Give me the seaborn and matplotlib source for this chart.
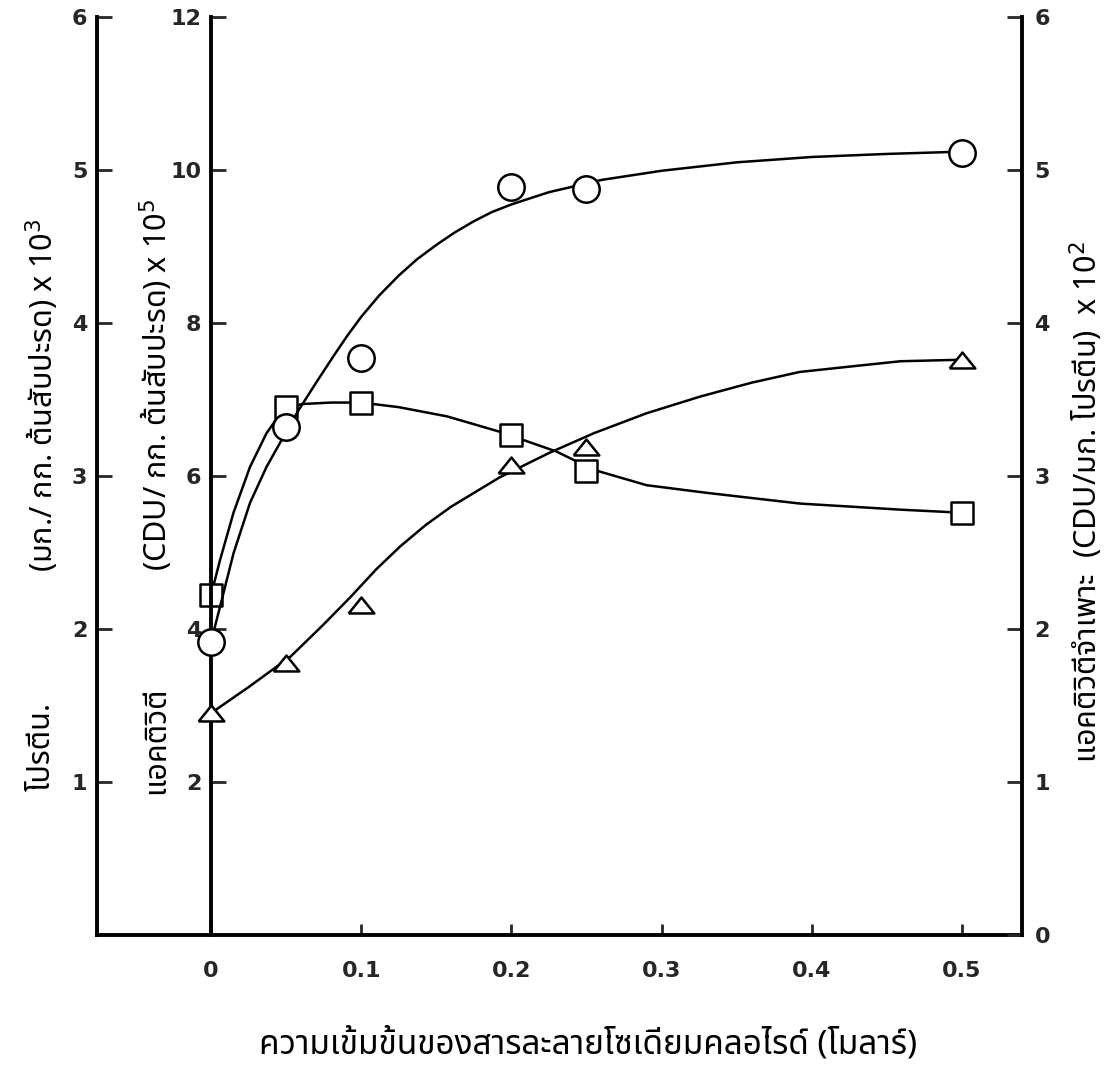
import matplotlib
matplotlib.use("Agg")
import matplotlib.pyplot as plt
import seaborn as sns
import pandas as pd
from matplotlib import font_manager
from matplotlib.ft2font import FT2Font

# ---------------- data ----------------
conc = [0.0, 0.05, 0.10, 0.20, 0.25, 0.50]              # NaCl concentration (M)
activity = [3.83, 6.64, 7.54, 9.78, 9.75, 10.22]        # CDU / kg  (x 10^5)   circles
protein = [2.22, 3.45, 3.48, 3.27, 3.03, 2.76]          # mg / kg   (x 10^3)   squares
specific = [1.45, 1.78, 2.16, 3.07, 3.19, 3.76]         # CDU / mg  (x 10^2)   triangles

# hand-drawn trend curves
activity_curve_x = [0.0, 0.006, 0.015, 0.026, 0.037, 0.047, 0.058, 0.070, 0.082,
                    0.091, 0.100, 0.112, 0.125, 0.137, 0.150, 0.162, 0.175,
                    0.187, 0.200, 0.225, 0.260, 0.300, 0.350, 0.400, 0.450, 0.500]
activity_curve_y = [3.83, 4.29, 4.99, 5.65, 6.12, 6.47, 6.85, 7.22, 7.58,
                    7.84, 8.08, 8.36, 8.62, 8.83, 9.02, 9.18, 9.33,
                    9.45, 9.55, 9.71, 9.87, 9.99, 10.10, 10.17, 10.21, 10.24]
protein_curve_x = [0.0, 0.006, 0.015, 0.026, 0.037, 0.047, 0.060, 0.080, 0.100,
                   0.125, 0.157, 0.192, 0.230, 0.255, 0.290, 0.330, 0.392,
                   0.459, 0.500]
protein_curve_y = [2.22, 2.45, 2.76, 3.06, 3.28, 3.42, 3.47, 3.48, 3.48,
                   3.45, 3.39, 3.29, 3.16, 3.04, 2.94, 2.89, 2.82,
                   2.78, 2.76]
specific_curve_x = [0.0, 0.025, 0.053, 0.075, 0.093, 0.110, 0.126, 0.143, 0.160,
                    0.192, 0.225, 0.255, 0.290, 0.326, 0.360, 0.392, 0.430,
                    0.459, 0.500]
specific_curve_y = [1.45, 1.62, 1.82, 2.03, 2.21, 2.39, 2.54, 2.68, 2.80,
                    2.99, 3.15, 3.28, 3.41, 3.52, 3.61, 3.68, 3.72,
                    3.75, 3.76]

x_ticks = [0, 0.1, 0.2, 0.3, 0.4, 0.5]
x_tick_labels = ["0", "0.1", "0.2", "0.3", "0.4", "0.5"]
protein_ticks = [1, 2, 3, 4, 5, 6]
activity_ticks = [2, 4, 6, 8, 10, 12]
specific_ticks = [0, 1, 2, 3, 4, 5, 6]

x_label = "ความเข้มข้นของสารละลายโซเดียมคลอไรด์ (โมลาร์)"
protein_label_a = "โปรตีน."
protein_label_b = "(มก./ กก. ต้นสับปะรด) x 10$^{3}$"
activity_label_a = "แอคติวิตี"
activity_label_b = "(CDU/ กก. ต้นสับปะรด) x 10$^{5}$"
specific_label = "แอคติวิตีจำเพาะ  (CDU/มก. โปรตีน)  x 10$^{2}$"


def find_thai_font():
    prefs = ["Tlwg Typewriter", "TlwgTypewriter", "Tlwg Typo", "TlwgTypo",
             "Tlwg Typist", "TlwgTypist", "Noto Sans Thai", "Noto Sans Thai UI",
             "Loma", "Garuda", "Waree", "Norasi", "Kinnari", "Umpush",
             "Sawasdee", "Laksaman", "Noto Serif Thai"]
    found = {}
    for fe in font_manager.fontManager.ttflist:
        if fe.name in found:
            continue
        try:
            if 0x0E01 in FT2Font(fe.fname).get_charmap():
                found[fe.name] = fe.fname
        except Exception:
            pass
    for p in prefs:
        if p in found:
            return p
    return next(iter(found), "DejaVu Sans")


sns.set_style("ticks")
thai = find_thai_font()
plt.rcParams["font.family"] = [thai, "DejaVu Sans"]
plt.rcParams["mathtext.fontset"] = "dejavusans"

W, H = 1107, 1065
fig = plt.figure(figsize=(W / 100, H / 100), dpi=100)
fig.patch.set_facecolor("white")


def fx(px):
    return px / W


def fy(py):
    return 1 - py / H


ax = fig.add_axes([fx(97), fy(935), fx(1022) - fx(97), fy(17) - fy(935)])
ax_in = ax.twinx()
ax_r = ax.twinx()

XMIN, XMAX = -0.0759, 0.540
LW_SPINE = 2.8
ink = "black"

# ---- protein (outer left axis) ----
sns.lineplot(x=protein_curve_x, y=protein_curve_y, ax=ax, color=ink, lw=1.8,
             sort=False, estimator=None, zorder=2)
sns.scatterplot(x=conc, y=protein, ax=ax, marker="s", s=15.5 ** 2,
                color="white", edgecolor=ink, linewidth=1.8, zorder=5)

# ---- activity (inner left axis at x = 0) ----
sns.lineplot(x=activity_curve_x, y=activity_curve_y, ax=ax_in, color=ink, lw=1.8,
             sort=False, estimator=None, zorder=2)
sns.scatterplot(x=conc, y=activity, ax=ax_in, marker="o", s=19.0 ** 2,
                color="white", edgecolor=ink, linewidth=1.8, zorder=5)

# ---- specific activity (right axis) ----
tri = [(-1.0, -0.62), (1.0, -0.62), (0.0, 0.62), (-1.0, -0.62)]
sns.lineplot(x=specific_curve_x, y=specific_curve_y, ax=ax_r, color=ink, lw=1.8,
             sort=False, estimator=None, zorder=2)
sns.scatterplot(x=conc, y=specific, ax=ax_r, marker=tri, s=18.5 ** 2,
                color="white", edgecolor=ink, linewidth=1.8, zorder=5)

for a in (ax, ax_in, ax_r):
    a.set_xlim(XMIN, XMAX)
    a.set_xlabel("")
    a.set_ylabel("")
    for sp in a.spines.values():
        sp.set_visible(False)
        sp.set_linewidth(LW_SPINE)
        sp.set_color(ink)
    a.patch.set_visible(False)

ax.set_ylim(0, 6)
ax_in.set_ylim(0, 12)
ax_r.set_ylim(0, 6)

tick_font = dict(family="DejaVu Sans", weight="bold", size=16)

# outer left
ax.spines["left"].set_visible(True)
ax.spines["bottom"].set_visible(True)
ax.set_yticks(protein_ticks)
ax.set_yticklabels([str(t) for t in protein_ticks], fontdict=tick_font)
ax.tick_params(axis="y", direction="in", length=11, width=2.0, pad=7,
               left=True, right=False, labelleft=True, labelright=False)
ax.set_xticks(x_ticks)
ax.set_xticklabels(x_tick_labels, fontdict=tick_font)
ax.tick_params(axis="x", direction="in", length=8, width=2.0, pad=19)

# inner left
ax_in.spines["left"].set_visible(True)
ax_in.spines["left"].set_position(("data", 0))
ax_in.yaxis.tick_left()
ax_in.set_yticks(activity_ticks)
ax_in.set_yticklabels([str(t) for t in activity_ticks], fontdict=tick_font)
ax_in.tick_params(axis="y", direction="in", length=11, width=2.0, pad=7,
                  left=True, right=False, labelleft=True, labelright=False)
ax_in.tick_params(axis="x", bottom=False, labelbottom=False)

# right
ax_r.spines["right"].set_visible(True)
ax_r.set_yticks(specific_ticks)
ax_r.set_yticklabels([str(t) for t in specific_ticks], fontdict=tick_font)
ax_r.tick_params(axis="y", direction="in", length=11, width=2.0, pad=9,
                 left=False, right=True, labelleft=False, labelright=True)
ax_r.tick_params(axis="x", bottom=False, labelbottom=False)

# ---- axis titles ----
lab = dict(color=ink, fontsize=22, ha="center", va="center")
fig.text(fx(42), fy(746), protein_label_a, rotation=90, **lab)
fig.text(fx(42), fy(395), protein_label_b, rotation=90, **lab)
fig.text(fx(156), fy(740), activity_label_a, rotation=90, **lab)
fig.text(fx(156), fy(385), activity_label_b, rotation=90, **lab)
fig.text(fx(1086), fy(502), specific_label, rotation=90, **lab)
fig.text(fx(588), fy(1045), x_label, color=ink, fontsize=24,
         ha="center", va="center")

fig.savefig("out.png", dpi=100, facecolor="white")
